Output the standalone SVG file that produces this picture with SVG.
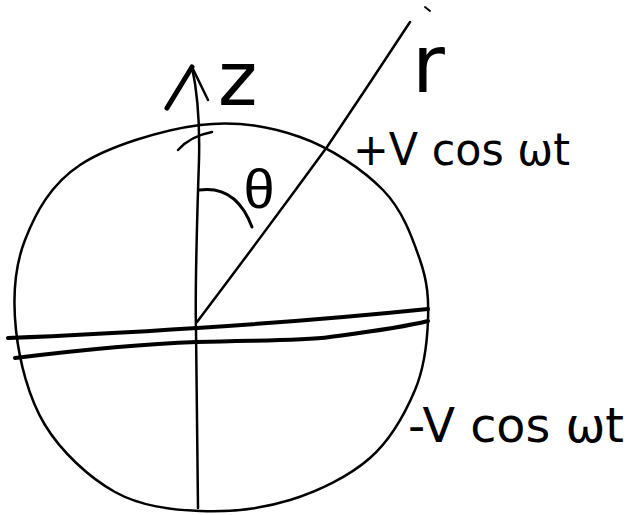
<svg xmlns="http://www.w3.org/2000/svg" width="637" height="515" viewBox="0 0 637 515">
<style>
.ink{fill:none;stroke:#000;stroke-linecap:round;stroke-linejoin:round}
.lbl{font-family:"DejaVu Sans","Liberation Sans",sans-serif;fill:#000}
</style>
<rect width="637" height="515" fill="#fff"/>
<g id="sphere">
<path class="ink" stroke-width="2.5" d="M200,125 C236.7,120.3 269.5,126.2 300,137 C330.5,147.8 363,169.5 383,190 C403,210.5 412.5,238.3 420,260 C427.5,281.7 428.8,298.3 428,320 C427.2,341.7 424.7,367 415,390 C405.3,413 390.8,439.7 370,458 C349.2,476.3 318.3,491.2 290,500 C261.7,508.8 229.2,512.3 200,511 C170.8,509.7 140.8,506.3 115,492 C89.2,477.7 61.5,452 45,425 C28.5,398 19.3,360.8 16,330 C12.7,299.2 14.3,267.5 25,240 C35.7,212.5 50.8,184.2 80,165 C109.2,145.8 163.3,129.7 200,125"/>
<path class="ink" stroke-width="2.5" d="M178,150 C186,141 196,135 212,132"/>
</g>
<g id="z-axis">
<path class="ink" stroke-width="2.5" d="M192,67 C197,90 200,120 199,160 C197,220 195,290 196,330 C197,400 198,460 198,508"/>
<path class="ink" stroke-width="5" d="M192,67 L167,108"/>
<path class="ink" stroke-width="2.5" d="M192,67 L208,100"/>
</g>
<g id="r-line">
<path class="ink" stroke-width="2.5" d="M197,322 Q262,236 327,147 Q368,86 410,22"/>
<path class="ink" stroke-width="2" d="M425,7 L430,11"/>
</g>
<g id="theta-arc">
<path class="ink" stroke-width="3" d="M199,190 C220,187 240,195 252,227"/>
</g>
<g id="plates">
<path class="ink" stroke-width="4" d="M8,338 C60,336 120,333 197,328 S360,316 428,309"/>
<path class="ink" stroke-width="4" d="M15,358 C80,350 140,344 197,342 C260,340 300,341 330,337 S400,328 428,321"/>
</g>
<g id="labels">
<text class="lbl" x="218" y="105" font-size="75">z</text>
<text class="lbl" x="412" y="92" font-size="80">r</text>
<text class="lbl" x="259" y="208" font-size="56" text-anchor="middle" style="font-family:'Liberation Sans',sans-serif">θ</text>
<text class="lbl" x="353" y="165" font-size="44" textLength="217" lengthAdjust="spacingAndGlyphs">+V cos ωt</text>
<text class="lbl" x="408" y="442" font-size="48" textLength="216" lengthAdjust="spacingAndGlyphs">-V cos ωt</text>
</g>
</svg>
